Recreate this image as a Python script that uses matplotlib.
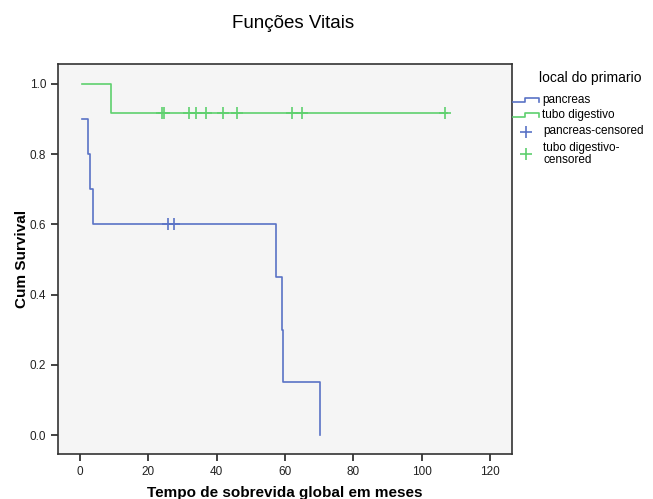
import matplotlib
matplotlib.use('Agg')
import matplotlib.pyplot as plt
from matplotlib.lines import Line2D

plt.rcParams['font.family'] = ['Liberation Sans', 'DejaVu Sans']

# curvas de Kaplan-Meier (tempo em meses, sobrevivencia acumulada)
panc_t = [0.6, 2.2, 2.9, 3.9, 57.4, 59.0, 59.5, 70.3]
panc_s = [0.9, 0.8, 0.7, 0.6, 0.45, 0.30, 0.15, 0.0]
panc_cens_t = [25.7, 27.6]

tubo_t = [0.6, 9.0]
tubo_s = [1.0, 11 / 12]
tubo_fim = 107.4
tubo_cens_t = [23.9, 24.7, 32.0, 33.9, 36.9, 41.9, 46.0, 62.1, 65.1, 106.7]

azul = '#5a73c6'
verde = '#5ed06e'

fig = plt.figure(figsize=(6.53, 4.99), dpi=100)
ax = fig.add_axes([0.089, 0.090, 0.695, 0.782])
ax.set_facecolor('#f5f5f5')

# pancreas
ax.step(panc_t, panc_s, where='post', color=azul, lw=1.2)
s_cens = [[s for t, s in zip(panc_t, panc_s) if t <= c][-1] for c in panc_cens_t]
ax.plot(panc_cens_t, s_cens, ls='none', marker='+', ms=8, mew=1.2, color=azul)

# tubo digestivo
ax.step(tubo_t + [tubo_fim], tubo_s + [tubo_s[-1]], where='post', color=verde, lw=1.2)
ax.plot(tubo_cens_t, [tubo_s[-1]] * len(tubo_cens_t), ls='none', marker='+',
        ms=8, mew=1.2, color=verde)

ax.set_xlim(-6.4, 126.4)
ax.set_ylim(-0.054, 1.057)
ax.set_xticks(range(0, 121, 20))
ax.set_yticks([0, 0.2, 0.4, 0.6, 0.8, 1.0])
ax.set_yticklabels(['0.0', '0.2', '0.4', '0.6', '0.8', '1.0'])
ax.tick_params(direction='out', length=5, width=1.2, labelsize=8.5, colors='#222222')
for sp in ax.spines.values():
    sp.set_color('#333333')
    sp.set_linewidth(1.2)

ax.set_xlabel('Tempo de sobrevida global em meses', fontsize=11, fontweight='bold', labelpad=6)
ax.set_ylabel('Cum Survival', fontsize=11, fontweight='bold', labelpad=0.5)

fig.text(0.449, 0.952, 'Funções Vitais', ha='center', va='center', fontsize=13.5)

# legenda desenhada a mao, estilo SPSS
def px(x, y):
    return x / 653, 1 - y / 499

fig.text(*px(590, 78), 'local do primario', ha='center', va='center', fontsize=10)
icone_x = [513, 525, 525, 539, 539]
icone_y = [0, 0, -4.5, -4.5, 0]
for yy, cor, nome in [(102, azul, 'pancreas'), (117, verde, 'tubo digestivo')]:
    xs = [px(x, 0)[0] for x in icone_x]
    ys = [px(0, yy + d)[1] for d in icone_y]
    fig.add_artist(Line2D(xs, ys, color=cor, lw=1.2, transform=fig.transFigure))
    fig.text(*px(542, yy - 2), nome, ha='left', va='center', fontsize=8.5)

fig.add_artist(Line2D([px(526, 0)[0]], [px(0, 132)[1]], marker='+', ms=9, mew=1.2,
                      color=azul, transform=fig.transFigure))
fig.text(*px(543, 131), 'pancreas-censored', ha='left', va='center', fontsize=8.5)
fig.add_artist(Line2D([px(526, 0)[0]], [px(0, 154)[1]], marker='+', ms=9, mew=1.2,
                      color=verde, transform=fig.transFigure))
fig.text(*px(543, 154), 'tubo digestivo-\ncensored', ha='left', va='center',
         fontsize=8.5, linespacing=0.95)

fig.savefig('out.png', dpi=100, facecolor='white')
